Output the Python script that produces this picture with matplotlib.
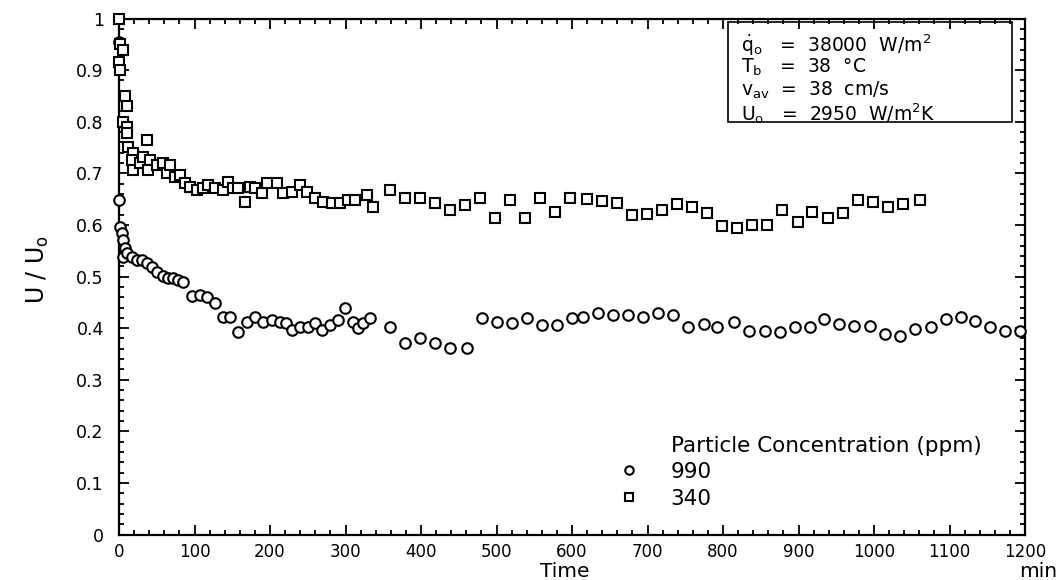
import matplotlib
matplotlib.use("Agg")
import matplotlib.pyplot as plt
from matplotlib.patches import Rectangle
from matplotlib.ticker import MultipleLocator

plt.rcParams['font.family'] = ['DejaVu Sans']
plt.rcParams['mathtext.default'] = 'regular'

# 340 ppm (squares): time in min, U/Uo
t_340 = [0, 1, 5, 0, 1, 8, 11, 5, 11, 11, 12, 37, 19, 17, 19, 28, 32, 41, 38, 50,
         58, 64, 68, 74, 81, 87, 94, 103, 111, 118, 127, 138, 144, 151, 158, 167,
         173, 180, 189, 196, 209, 217, 229, 240, 249, 260, 270, 282, 293, 303, 313,
         328, 336, 359, 379, 399, 419, 438, 458, 478, 498, 518, 538, 558, 577, 597,
         620, 640, 660, 679, 699, 719, 739, 759, 779, 799, 819, 838, 858, 878, 899,
         918, 939, 959, 979, 999, 1019, 1038, 1061]
u_340 = [1.0, 0.95, 0.94, 0.915, 0.90, 0.85, 0.83, 0.80, 0.79, 0.778, 0.751, 0.765,
         0.74, 0.726, 0.707, 0.72, 0.732, 0.726, 0.707, 0.716, 0.72, 0.701, 0.716,
         0.693, 0.697, 0.681, 0.674, 0.668, 0.672, 0.677, 0.672, 0.668, 0.683, 0.672,
         0.672, 0.645, 0.674, 0.672, 0.662, 0.681, 0.681, 0.662, 0.664, 0.677, 0.664,
         0.652, 0.645, 0.643, 0.643, 0.648, 0.648, 0.658, 0.635, 0.668, 0.652, 0.652,
         0.643, 0.629, 0.639, 0.652, 0.613, 0.648, 0.613, 0.652, 0.625, 0.652, 0.650,
         0.646, 0.643, 0.619, 0.621, 0.629, 0.641, 0.635, 0.623, 0.598, 0.594, 0.600,
         0.600, 0.629, 0.606, 0.625, 0.613, 0.623, 0.648, 0.645, 0.635, 0.641, 0.648]

# 990 ppm (circles)
t_990 = [0, 0, 1, 4, 5, 8, 5, 11, 17, 24, 30, 37, 44, 50, 58, 65, 72, 78, 85, 97,
         107, 117, 127, 138, 147, 158, 170, 180, 191, 203, 213, 221, 229, 240, 250,
         260, 269, 279, 290, 299, 310, 317, 323, 332, 359, 379, 399, 419, 438, 461,
         481, 501, 521, 540, 560, 580, 600, 615, 634, 654, 674, 694, 714, 734, 754,
         775, 792, 815, 834, 856, 875, 895, 915, 934, 954, 974, 995, 1015, 1034,
         1054, 1075, 1095, 1115, 1134, 1154, 1173, 1193]
u_990 = [0.955, 0.648, 0.596, 0.584, 0.571, 0.555, 0.538, 0.546, 0.538, 0.532, 0.532,
         0.526, 0.518, 0.508, 0.502, 0.498, 0.498, 0.493, 0.489, 0.462, 0.464, 0.460,
         0.449, 0.422, 0.422, 0.393, 0.412, 0.422, 0.412, 0.416, 0.412, 0.410, 0.396,
         0.402, 0.402, 0.410, 0.396, 0.406, 0.416, 0.439, 0.412, 0.400, 0.410, 0.419,
         0.402, 0.371, 0.381, 0.371, 0.362, 0.362, 0.419, 0.412, 0.410, 0.419, 0.406,
         0.406, 0.419, 0.422, 0.429, 0.425, 0.425, 0.422, 0.429, 0.425, 0.402, 0.408,
         0.402, 0.412, 0.395, 0.395, 0.393, 0.402, 0.402, 0.418, 0.408, 0.404, 0.404,
         0.389, 0.385, 0.398, 0.402, 0.418, 0.422, 0.414, 0.402, 0.395, 0.395]

x_ticks = list(range(0, 1201, 100))
y_ticks = [0, 0.1, 0.2, 0.3, 0.4, 0.5, 0.6, 0.7, 0.8, 0.9, 1]
y_labels = ['0', '0.1', '0.2', '0.3', '0.4', '0.5', '0.6', '0.7', '0.8', '0.9', '1']

info_lines = [r'$\dot{q}_o$   =  38000  W/m$^2$',
              r'T$_b$   =  38  °C',
              r'v$_{av}$  =  38  cm/s',
              r'U$_o$   =  2950  W/m$^2$K']

fig = plt.figure(figsize=(10.62, 5.80), dpi=100)
ax = fig.add_axes([0.1121, 0.0783, 0.8531, 0.8897])

c, = ax.plot(t_990, u_990, 'o', ms=7.6, mfc='white', mec='black', mew=1.5,
             clip_on=False, zorder=3, label='990')
s, = ax.plot(t_340, u_340, 's', ms=7.6, mfc='white', mec='black', mew=1.5,
             clip_on=False, zorder=3, label='340')

ax.set_xlim(0, 1200)
ax.set_ylim(0, 1)
ax.set_xticks(x_ticks)
ax.set_xticklabels([str(v) for v in x_ticks], fontsize=12)
ax.set_yticks(y_ticks)
ax.set_yticklabels(y_labels, fontsize=12.5)
ax.xaxis.set_minor_locator(MultipleLocator(20))
ax.yaxis.set_minor_locator(MultipleLocator(0.02))
ax.tick_params(which='both', direction='in', top=True, right=True, width=1.3)
ax.tick_params(which='major', length=7)
ax.tick_params(which='minor', length=3.5)
ax.tick_params(axis='y', pad=11)
ax.tick_params(axis='x', pad=6)
for sp in ax.spines.values():
    sp.set_linewidth(1.6)

fig.text(0.532, 0.014, 'Time', fontsize=14.5, ha='center', va='center')
fig.text(0.978, 0.014, 'min', fontsize=14.5, ha='center', va='center')
fig.text(0.036, 0.535, r'U / U$_o$', fontsize=17, rotation=90,
         ha='center', va='center')

# info box
ax.add_patch(Rectangle((0.672, 0.800), 0.314, 0.193, transform=ax.transAxes,
                       fill=False, lw=1.2, ec='black', zorder=4))
for i, line in enumerate(info_lines):
    ax.text(0.686, 0.949 - i * 0.0443, line, transform=ax.transAxes,
            fontsize=13.5, va='center', ha='left')

ax.text(0.609, 0.172, 'Particle Concentration (ppm)', transform=ax.transAxes,
        fontsize=15.5, va='center', ha='left')
ax.legend(handles=[c, s], loc='upper left', bbox_to_anchor=(0.553, 0.141),
          frameon=False, fontsize=15.5, handlelength=0.8, handletextpad=1.55,
          labelspacing=0.32, borderpad=0, borderaxespad=0, markerscale=0.8)

fig.savefig('out.png', dpi=100)
